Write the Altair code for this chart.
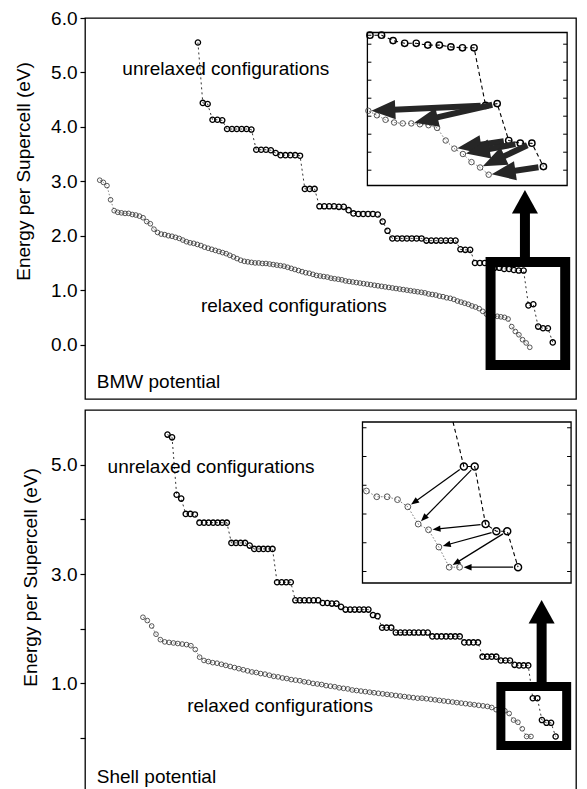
import math
import altair as alt
import pandas as pd

FONT = "Liberation Sans"
FS = 19
Y_TITLE = "Energy per Supercell (eV)"

# ---------------- data (energies in eV, sorted configurations) ----------------
BMW_UNRELAXED = [
    5.55,
    4.44, 4.42,
    4.13, 4.13, 4.12,
    3.96, 3.96, 3.96, 3.96, 3.96, 3.95,
    3.58, 3.58, 3.58, 3.57,
    3.52,
    3.48, 3.48, 3.48, 3.48, 3.47,
    2.86, 2.86, 2.86,
    2.54, 2.54, 2.54, 2.54, 2.53, 2.53,
    2.47,
    2.41, 2.40, 2.40, 2.40, 2.40, 2.39,
    2.26,
    2.09,
    1.95, 1.95, 1.95, 1.95, 1.95, 1.95, 1.95,
    1.91, 1.91, 1.91, 1.91, 1.91, 1.91, 1.91,
    1.75, 1.74, 1.74,
    1.50, 1.50, 1.50,
    1.44, 1.41, 1.41, 1.39, 1.39, 1.37, 1.36, 1.36,
    0.72, 0.74,
    0.33, 0.30, 0.30,
    0.04,
]

BMW_RELAXED = [
    3.02, 2.98, 2.92, 2.66, 2.46, 2.43, 2.42, 2.41, 2.41, 2.39,
    2.38, 2.36, 2.33, 2.26, 2.22, 2.12, 2.06, 2.03, 2.02, 2.00,
    1.99, 1.97, 1.95, 1.92, 1.89, 1.87, 1.86, 1.84, 1.82, 1.79,
    1.77, 1.75, 1.73, 1.71, 1.69, 1.67, 1.64, 1.61, 1.58, 1.55,
    1.53, 1.52, 1.51, 1.50, 1.50, 1.49, 1.49, 1.48, 1.47, 1.46,
    1.45, 1.44, 1.42, 1.40, 1.38, 1.36, 1.34, 1.32, 1.31, 1.29,
    1.27, 1.26, 1.25, 1.24, 1.22, 1.21, 1.20, 1.19, 1.17, 1.16,
    1.15, 1.14, 1.13, 1.12, 1.11, 1.10, 1.09, 1.08, 1.07, 1.06,
    1.05, 1.04, 1.03, 1.02, 1.01, 1.00, 0.99, 0.98, 0.97, 0.96,
    0.95, 0.93, 0.92, 0.91, 0.89, 0.88, 0.86, 0.85, 0.83, 0.80,
    0.78, 0.76, 0.74, 0.71, 0.69, 0.66, 0.61, 0.56, 0.53, 0.52,
    0.52, 0.51, 0.50, 0.47, 0.33, 0.24, 0.18, 0.09, 0.03, -0.05,
]

SHELL_UNRELAXED = [
    5.55, 5.50,
    4.45, 4.38,
    4.10, 4.10, 4.09,
    3.94, 3.94, 3.94, 3.94, 3.94, 3.94, 3.94,
    3.57, 3.57, 3.57, 3.57,
    3.52,
    3.46, 3.46, 3.46, 3.46, 3.46,
    2.85, 2.85, 2.85, 2.85,
    2.52, 2.52, 2.52, 2.52, 2.52, 2.52,
    2.47, 2.47, 2.46, 2.46,
    2.40,
    2.35, 2.35, 2.35, 2.35, 2.35, 2.35,
    2.25, 2.23,
    2.02, 2.02, 2.02,
    1.93, 1.93, 1.93, 1.93, 1.93, 1.93, 1.93, 1.93,
    1.86, 1.86, 1.86, 1.86, 1.86, 1.86, 1.86,
    1.75, 1.75, 1.75, 1.75,
    1.49, 1.49, 1.49, 1.49,
    1.42, 1.42, 1.42,
    1.34, 1.33, 1.33, 1.33,
    0.73, 0.73,
    0.33, 0.28, 0.28,
    0.03,
]

SHELL_RELAXED = [
    2.21, 2.15, 2.05, 1.90, 1.80, 1.76, 1.75, 1.74, 1.73, 1.72,
    1.71, 1.69, 1.62, 1.48, 1.42, 1.40, 1.38, 1.37, 1.35, 1.33,
    1.31, 1.29, 1.27, 1.25, 1.23, 1.21, 1.20, 1.18, 1.17, 1.15,
    1.13, 1.12, 1.10, 1.09, 1.07, 1.06, 1.05, 1.03, 1.02, 1.00,
    0.99, 0.98, 0.96, 0.95, 0.94, 0.92, 0.91, 0.90, 0.88, 0.87,
    0.86, 0.85, 0.84, 0.83, 0.82, 0.81, 0.80, 0.79, 0.78, 0.77,
    0.76, 0.75, 0.74, 0.73, 0.73, 0.72, 0.71, 0.70, 0.69, 0.68,
    0.67, 0.66, 0.65, 0.64, 0.63, 0.62, 0.61, 0.60, 0.59, 0.58,
    0.56, 0.52, 0.52, 0.50, 0.45, 0.33, 0.29, 0.17, 0.03, 0.03,
]

# which unrelaxed configuration (index) relaxes into which relaxed one (index)
BMW_ARROWS = [(68, 105), (69, 110), (70, 115), (71, 116), (72, 118), (73, 119)]
SHELL_ARROWS = [(80, 84), (81, 85), (82, 86), (83, 87), (84, 88), (85, 89)]

UP_HEAD = "M0,0L-0.5,0.9L0.5,0.9Z"
ARROW_HEAD = "M0,0L-0.4,1L0.4,1Z"

WIDTH = 491
XS = WIDTH / 499.0  # horizontal squeeze so the page does not overflow

PANELS = [
    dict(
        unrel=BMW_UNRELAXED, rel=BMW_RELAXED, arrows=BMW_ARROWS,
        ux0=23.0, udx=0.99, rx0=3.0, rdx=0.736,
        ydom=[-1.0, 6.0], height=381, ticks=[0, 1, 2, 3, 4, 5, 6],
        label_expr="format(datum.value, '.1f')", title_x=-52, title_y=153,
        texts=[
            {"x": 7.6, "y": 4.95, "label": "unrelaxed configurations"},
            {"x": 23.6, "y": 0.60, "label": "relaxed configurations"},
            {"x": 2.4, "y": -0.80, "label": "BMW potential"},
        ],
        box={"x": 82.6, "x2": 97.8, "y": -0.375, "y2": 1.515}, box_w=10,
        up_shaft={"x": 89.6, "y": 1.515, "y2": 2.42}, up_head={"x": 89.6, "y": 2.84},
        ix=[80.2, 97.3], iy=[-0.17, 1.53], ixr=[287 * XS, 490 * XS], iyr=[167.5, 14.5],
        iticks=[0.0, 0.2, 0.4, 0.6, 0.8, 1.0, 1.2, 1.4],
        arrow_w=6, arrow_k=24, arrow_color="#262626", gap0=5, gap1=3,
        iu_size=40, ir_size=30,
    ),
    dict(
        unrel=SHELL_UNRELAXED, rel=SHELL_RELAXED, arrows=SHELL_ARROWS,
        ux0=16.8, udx=0.93, rx0=11.8, rdx=0.888,
        ydom=[-1.15, 6.0], height=391, ticks=[0, 1, 2, 3, 4, 5],
        label_expr="datum.value % 2 == 1 ? format(datum.value, '.1f') : ''",
        title_x=-45, title_y=167,
        texts=[
            {"x": 4.6, "y": 4.85, "label": "unrelaxed configurations"},
            {"x": 20.8, "y": 0.48, "label": "relaxed configurations"},
            {"x": 2.4, "y": -0.82, "label": "Shell potential"},
        ],
        box={"x": 84.7, "x2": 98.1, "y": -0.134, "y2": 0.944}, box_w=9,
        up_shaft={"x": 93.0, "y": 0.944, "y2": 2.105}, up_head={"x": 93.0, "y": 2.526},
        ix=[82.5, 100.4], iy=[-0.08, 1.04], ixr=[282 * XS, 494 * XS], iyr=[173, 12],
        iticks=[0.0, 0.2, 0.4, 0.6, 0.8, 1.0],
        arrow_w=1.2, arrow_k=8, arrow_color="black", gap0=5, gap1=4,
        iu_size=50, ir_size=34,
    ),
]


def build_panel(p):
    ux = [p["ux0"] + p["udx"] * j for j in range(len(p["unrel"]))]
    rx = [p["rx0"] + p["rdx"] * i for i in range(len(p["rel"]))]
    unrel = pd.DataFrame({"k": range(len(ux)), "x": ux, "y": p["unrel"]})
    rel = pd.DataFrame({"k": range(len(rx)), "x": rx, "y": p["rel"]})

    yaxis = alt.Axis(
        values=p["ticks"], labelExpr=p["label_expr"], tickSize=5, tickColor="black",
        tickWidth=1.2, labelPadding=3, labelFont=FONT, labelFontSize=FS,
        labelColor="black", title=Y_TITLE, titleFont=FONT, titleFontSize=FS,
        titleFontWeight="normal", titleColor="black", titleX=p["title_x"],
        titleY=p["title_y"], domain=False, grid=False,
    )
    xs = alt.Scale(domain=[0, 100])
    ys = alt.Scale(domain=p["ydom"])

    def X(f="x"):
        return alt.X(f"{f}:Q", scale=xs, axis=None)

    def Y(f="y"):
        return alt.Y(f"{f}:Q", scale=ys, axis=yaxis)

    rel_line = alt.Chart(rel).mark_line(color="#555", strokeWidth=0.7, strokeDash=[1.5, 2]).encode(x=X(), y=Y())
    rel_pts = alt.Chart(rel).mark_point(shape="circle", filled=False, size=22, strokeWidth=0.8,
                                        color="#303030", opacity=1).encode(x=X(), y=Y())
    un_line = alt.Chart(unrel).mark_line(color="black", strokeWidth=0.8, strokeDash=[2, 3]).encode(x=X(), y=Y())
    un_pts = alt.Chart(unrel).mark_point(shape="circle", filled=False, size=28, strokeWidth=1.3,
                                         color="black", opacity=1).encode(x=X(), y=Y())
    texts = alt.Chart(pd.DataFrame(p["texts"])).mark_text(
        align="left", baseline="alphabetic", font=FONT, fontSize=FS, color="black"
    ).encode(x=X(), y=Y(), text="label:N")
    box = alt.Chart(pd.DataFrame([p["box"]])).mark_rect(
        fillOpacity=0, stroke="black", strokeWidth=p["box_w"]
    ).encode(x=X(), x2=alt.X2("x2:Q"), y=Y(), y2=alt.Y2("y2:Q"))
    shaft = alt.Chart(pd.DataFrame([p["up_shaft"]])).mark_rule(color="black", strokeWidth=10).encode(
        x=X(), y=Y(), y2=alt.Y2("y2:Q"))
    head = alt.Chart(pd.DataFrame([p["up_head"]])).mark_point(
        shape=UP_HEAD, filled=True, size=2704, color="black", opacity=1, strokeWidth=0
    ).encode(x=X(), y=Y())
    main = alt.layer(rel_line, rel_pts, un_line, un_pts, texts, box, shaft, head)

    # ---------------- inset: magnified view of the boxed region ----------------
    a, b = p["ix"]
    lo, hi = p["iy"]
    sx = abs(p["ixr"][1] - p["ixr"][0]) / (b - a)
    sy = abs(p["iyr"][0] - p["iyr"][1]) / (hi - lo)
    ixs = alt.Scale(domain=[a, b], range=p["ixr"], clamp=True)
    iys = alt.Scale(domain=[lo, hi], range=p["iyr"], clamp=True)

    def XI(f="x"):
        return alt.X(f"{f}:Q", scale=ixs, axis=None)

    def YI(f="y"):
        return alt.Y(f"{f}:Q", scale=iys, axis=None)

    def inside(df):
        m = (df.x >= a - 0.3) & (df.x <= b) & (df.y >= lo) & (df.y <= hi)
        pts = df[m]
        k0, k1 = pts.k.min() - 1, pts.k.max() + 1
        line = df[(df.k >= k0) & (df.k <= k1)]
        return pts, line

    un_in, un_in_line = inside(unrel)
    rel_in, rel_in_line = inside(rel)

    frame = alt.Chart(pd.DataFrame([{"x": a, "x2": b, "y": lo, "y2": hi}])).mark_rect(
        fill="white", stroke="black", strokeWidth=1.3
    ).encode(x=XI(), x2=alt.X2("x2:Q"), y=YI(), y2=alt.Y2("y2:Q"))

    tick_len = 4 / sx
    tick_rows = []
    for t in p["iticks"]:
        tick_rows.append({"x": a, "x2": a + tick_len, "y": t})
        tick_rows.append({"x": b - tick_len, "x2": b, "y": t})
    iticks = alt.Chart(pd.DataFrame(tick_rows)).mark_rule(color="black", strokeWidth=1).encode(
        x=XI(), x2=alt.X2("x2:Q"), y=YI())

    i_rel_line = alt.Chart(rel_in_line).mark_line(color="#555", strokeWidth=0.8, strokeDash=[1.5, 2]).encode(
        x=XI(), y=YI())
    i_rel_pts = alt.Chart(rel_in).mark_point(shape="circle", filled=False, size=p["ir_size"], strokeWidth=0.9,
                                             color="#444", opacity=1).encode(x=XI(), y=YI())
    i_un_line = alt.Chart(un_in_line).mark_line(color="black", strokeWidth=1.1, strokeDash=[4, 3]).encode(
        x=XI(), y=YI())
    i_un_pts = alt.Chart(un_in).mark_point(shape="circle", filled=False, size=p["iu_size"], strokeWidth=1.4,
                                           color="black", opacity=1).encode(x=XI(), y=YI())

    head_len = p["arrow_k"]
    shafts, heads = [], []
    for j, i in p["arrows"]:
        x1, y1 = ux[j], p["unrel"][j]
        x2, y2 = rx[i], p["rel"][i]
        dxp = (x2 - x1) * sx
        dyp = -(y2 - y1) * sy
        L = math.hypot(dxp, dyp)
        ex, ey = dxp / L, dyp / L
        x_s, y_s = x1 + ex * p["gap0"] / sx, y1 - ey * p["gap0"] / sy
        x_t, y_t = x2 - ex * p["gap1"] / sx, y2 + ey * p["gap1"] / sy
        back = head_len * 0.7
        x_b, y_b = x_t - ex * back / sx, y_t + ey * back / sy
        ang = math.degrees(math.atan2(ex, -ey)) % 360
        shafts.append({"x": x_s, "y": y_s, "x2": x_b, "y2": y_b})
        heads.append({"x": x_t, "y": y_t, "angle": ang})

    a_shafts = alt.Chart(pd.DataFrame(shafts)).mark_rule(
        color=p["arrow_color"], strokeWidth=p["arrow_w"]
    ).encode(x=XI(), y=YI(), x2=alt.X2("x2:Q"), y2=alt.Y2("y2:Q"))
    a_heads = alt.Chart(pd.DataFrame(heads)).mark_point(
        shape=ARROW_HEAD, filled=True, size=(2 * head_len) ** 2, color=p["arrow_color"], opacity=1, strokeWidth=0
    ).encode(x=XI(), y=YI(), angle=alt.Angle("angle:Q", scale=None))

    inset = alt.layer(frame, iticks, i_rel_line, i_rel_pts, i_un_line, i_un_pts, a_shafts, a_heads)

    return alt.layer(main, inset).resolve_scale(x="independent", y="independent").properties(
        width=WIDTH, height=p["height"])


top = build_panel(PANELS[0])
bottom = build_panel(PANELS[1])

chart = (
    alt.vconcat(top, bottom, spacing=11, bounds="flush")
    .properties(padding={"left": 5, "top": 0, "right": 0, "bottom": 0})
    .configure(font=FONT)
    .configure_view(stroke="black", strokeWidth=1.3)
)

chart.save("out.html", embed_options={"renderer": "svg", "actions": False})
